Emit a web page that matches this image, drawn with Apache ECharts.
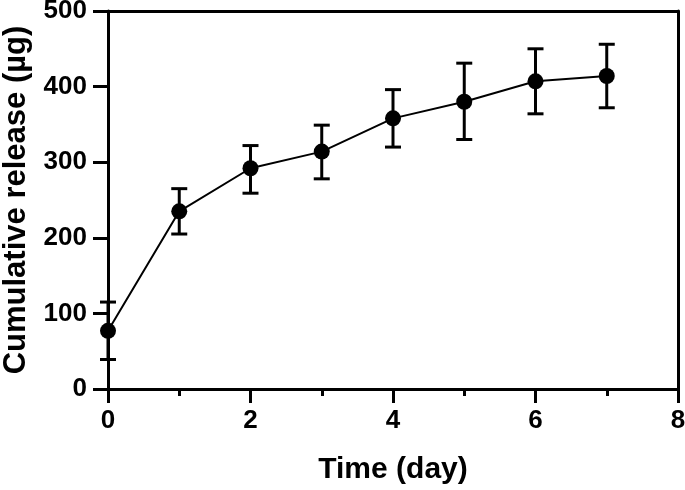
<!DOCTYPE html>
<html><head><meta charset="utf-8">
<script src="https://cdn.jsdelivr.net/npm/echarts@6/dist/echarts.min.js"></script>
<style>html,body{margin:0;padding:0;background:#fff}#c{width:685px;height:490px}</style>
</head><body><div id="c"></div>
<script>
const days = [0, 1, 2, 3, 4, 5, 6, 7];
const meanRelease = [77, 235, 292, 314, 358, 380, 407, 414];
const lowerErr = [39, 205, 259, 278, 320, 330, 364, 372];
const upperErr = [115, 265, 322, 349, 396, 431, 450, 456];
const xTicks = [0, 2, 4, 6, 8];
const yTicks = [0, 100, 200, 300, 400, 500];

const chart = echarts.init(document.getElementById('c'), null, {renderer: 'canvas'});
const font = 'Liberation Sans, Arial, sans-serif';
const errData = days.map((d, i) => [d, lowerErr[i], upperErr[i]]);
const lineData = days.map((d, i) => [d, meanRelease[i]]);

chart.setOption({
  animation: false,
  grid: {left: 108, right: 7, top: 11, bottom: 101, containLabel: false, outerBoundsMode: 'none'},
  xAxis: [{
    type: 'value', min: 0, max: 8, interval: 2,
    axisLine: {show: true, onZero: false, lineStyle: {color: '#000', width: 3}},
    axisTick: {show: true, length: 14, lineStyle: {color: '#000', width: 3}},
    minorTick: {show: true, splitNumber: 2, length: 7, lineStyle: {color: '#000', width: 3}},
    splitLine: {show: false},
    axisLabel: {color: '#000', fontFamily: font, fontWeight: 'bold', fontSize: 26, margin: 19,
      formatter: v => xTicks.includes(v) ? String(v) : ''},
    name: 'Time (day)', nameLocation: 'middle', nameGap: 66,
    nameTextStyle: {color: '#000', fontFamily: font, fontWeight: 'bold', fontSize: 30}
  }, {
    type: 'value', position: 'top', min: 0, max: 8,
    axisLine: {show: true, onZero: false, lineStyle: {color: '#000', width: 3}},
    axisTick: {show: false}, axisLabel: {show: false}, splitLine: {show: false}
  }],
  yAxis: [{
    type: 'value', min: 0, max: 500, interval: 100,
    axisLine: {show: true, onZero: false, lineStyle: {color: '#000', width: 3}},
    axisTick: {show: true, length: 15, lineStyle: {color: '#000', width: 3}},
    splitLine: {show: false},
    axisLabel: {color: '#000', fontFamily: font, fontWeight: 'bold', fontSize: 26, margin: 21,
      formatter: v => yTicks.includes(v) ? String(v) : ''},
    name: 'Cumulative release (µg)', nameLocation: 'middle', nameGap: 76,
    nameTextStyle: {color: '#000', fontFamily: font, fontWeight: 'bold', fontSize: 31}
  }, {
    type: 'value', position: 'right', min: 0, max: 500,
    axisLine: {show: true, onZero: false, lineStyle: {color: '#000', width: 3}},
    axisTick: {show: false}, axisLabel: {show: false}, splitLine: {show: false}
  }],
  series: [{
    type: 'custom',
    data: errData,
    z: 3,
    renderItem: function (params, api) {
      const x = api.value(0);
      const lo = api.coord([x, api.value(1)]);
      const hi = api.coord([x, api.value(2)]);
      const hw = 8;
      const st = {stroke: '#000', lineWidth: 3};
      return {type: 'group', children: [
        {type: 'line', shape: {x1: lo[0], y1: lo[1], x2: hi[0], y2: hi[1]}, style: st},
        {type: 'line', shape: {x1: lo[0] - hw, y1: lo[1], x2: lo[0] + hw, y2: lo[1]}, style: st},
        {type: 'line', shape: {x1: hi[0] - hw, y1: hi[1], x2: hi[0] + hw, y2: hi[1]}, style: st}
      ]};
    }
  }, {
    type: 'line',
    data: lineData,
    z: 4,
    symbol: 'circle', symbolSize: 16,
    itemStyle: {color: '#000'},
    lineStyle: {color: '#000', width: 2}
  }]
});
</script></body></html>
